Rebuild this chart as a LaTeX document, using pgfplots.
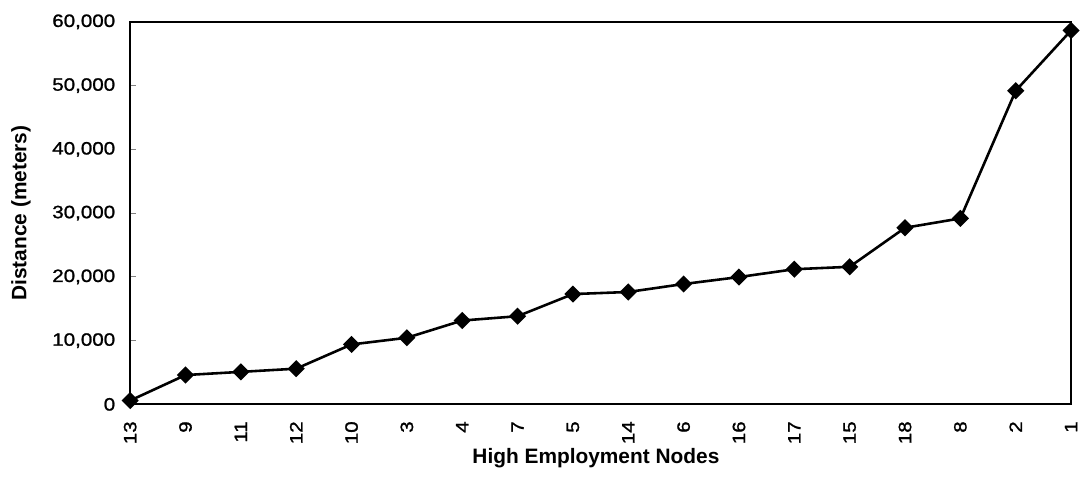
\documentclass[border=0pt]{standalone}
\usepackage{fontspec}
\setmainfont{Liberation Sans}
\newfontfamily\tickfont{Liberation Sans}[FakeStretch=1.15, FakeBold=1.2]
\usepackage{pgfplots}
\pgfplotsset{compat=1.18}
\pgfplotstableread{
x y
0 600
1 4600
2 5100
3 5600
4 9400
5 10450
6 13150
7 13830
8 17300
9 17630
10 18880
11 19970
12 21200
13 21580
14 27700
15 29170
16 49200
17 58650
}\mydata
\begin{document}
\begin{tikzpicture}
\path[use as bounding box] (-65.5pt,-37pt) rectangle (479pt,203.5pt);
\begin{axis}[
  anchor=south west, at={(0pt,0pt)},
  width=473.5pt, height=192.5pt, scale only axis,
  xmin=0, xmax=17, ymin=0, ymax=60000,
  xtick={0,...,17},
  xticklabels={13,9,11,12,10,3,4,7,5,14,6,16,17,15,18,8,2,1},
  ytick={0,10000,...,60000},
  scaled y ticks=false,
  /pgf/number format/.cd, 1000 sep={,}, assume math mode=true, /pgfplots/.cd,
  axis line style={line width=1pt},
  tick align=inside, major tick length=3pt,
  ytick pos=left, xtick style={draw=none},
  ytick style={line width=0.6pt},
  xticklabel style={font=\fontsize{9pt}{10pt}\tickfont, rotate=90, anchor=east},
  xticklabel shift=5pt,
  yticklabel style={font=\fontsize{9pt}{10pt}\tickfont},
  yticklabel shift=4pt,
  xlabel={High Employment Nodes},
  ylabel={Distance (meters)},
  label style={font=\fontsize{10.5pt}{12pt}\selectfont\bfseries},
  xlabel style={at={(axis description cs:0.495,-0.14)}, anchor=center},
  ylabel style={at={(axis description cs:-0.116,0.5)}, anchor=center},
  clip=false,
]
\addplot[black, line width=1.3pt, mark=square*, mark size=2.4pt, mark options={solid, fill=black, rotate=45}] table[x=x,y=y] {\mydata};
\end{axis}
\end{tikzpicture}
\end{document}
